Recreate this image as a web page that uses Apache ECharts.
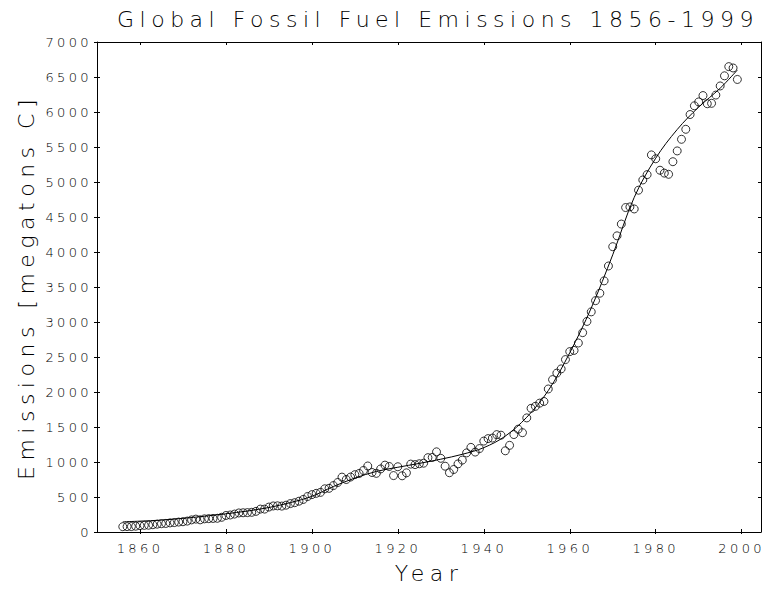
<!DOCTYPE html>
<html>
<head>
<meta charset="utf-8">
<script src="https://cdn.jsdelivr.net/npm/echarts@6/dist/echarts.min.js"></script>
<style>
  html, body { margin: 0; padding: 0; background: #fff; }
  #main { width: 764px; height: 589px; }
  #main text[style*="22px"] { letter-spacing: 0.25em; }
  #main text[style*="13px"] { letter-spacing: 0.26em; }
</style>
</head>
<body>
<div id="main"></div>
<script>
// ---- data ----
const titleText = 'Global Fossil Fuel Emissions 1856-1999';
const xName = 'Year';
const yName = 'Emissions [megatons C]';

const years = [1856,1857,1858,1859,1860,1861,1862,1863,1864,1865,1866,1867,1868,1869,1870,1871,1872,1873,1874,1875,1876,1877,1878,1879,1880,1881,1882,1883,1884,1885,1886,1887,1888,1889,1890,1891,1892,1893,1894,1895,1896,1897,1898,1899,1900,1901,1902,1903,1904,1905,1906,1907,1908,1909,1910,1911,1912,1913,1914,1915,1916,1917,1918,1919,1920,1921,1922,1923,1924,1925,1926,1927,1928,1929,1930,1931,1932,1933,1934,1935,1936,1937,1938,1939,1940,1941,1942,1943,1944,1945,1946,1947,1948,1949,1950,1951,1952,1953,1954,1955,1956,1957,1958,1959,1960,1961,1962,1963,1964,1965,1966,1967,1968,1969,1970,1971,1972,1973,1974,1975,1976,1977,1978,1979,1980,1981,1982,1983,1984,1985,1986,1987,1988,1989,1990,1991,1992,1993,1994,1995,1996,1997,1998,1999];

const emissions = [76,77,78,83,91,95,97,104,112,119,122,130,135,142,147,156,173,184,174,188,191,194,196,210,236,243,256,272,275,277,281,295,327,327,356,372,374,370,383,406,419,440,465,507,534,552,566,617,624,663,707,784,750,785,819,836,879,943,850,838,901,955,936,806,932,803,845,970,963,975,983,1062,1065,1145,1053,940,847,893,973,1027,1130,1209,1142,1192,1299,1334,1342,1391,1383,1160,1238,1392,1469,1419,1630,1767,1795,1841,1865,2043,2177,2270,2330,2463,2577,2594,2700,2848,3008,3145,3305,3411,3588,3800,4076,4231,4399,4635,4644,4615,4883,5029,5105,5387,5332,5168,5127,5110,5290,5444,5610,5753,5964,6089,6144,6235,6118,6124,6242,6372,6517,6648,6629,6465];

// fitted smooth curve
const fitYears  = [1856,1860,1865,1870,1875,1880,1885,1890,1895,1900,1905,1910,1915,1920,1925,1930,1935,1940,1945,1950,1955,1960,1965,1970,1975,1980,1985,1990,1995,1999];
const fitValues = [145,155,170,195,225,260,300,350,420,510,650,770,865,925,980,1040,1110,1205,1370,1640,2020,2560,3200,3960,4780,5340,5750,6070,6340,6600];

const xTicks = [1860,1880,1900,1920,1940,1960,1980,2000];
const xMin = 1850, xMax = 2004.5;
const yMin = 0, yMax = 7000, yStep = 500;

// ---- chart ----
const FONT = "'DejaVu Sans', sans-serif";
const chart = echarts.init(document.getElementById('main'), null, { renderer: 'svg' });

const scatterData = years.map((y, i) => [y, emissions[i]]);
const fitData = fitYears.map((y, i) => [y, fitValues[i]]);

const plain = v => String(v);
const tickIn = { show: true, inside: true, length: 3, lineStyle: { color: '#000', width: 1 } };
const tickOut = { show: true, inside: false, length: 3, lineStyle: { color: '#000', width: 1 } };
const lineStyle = { show: true, onZero: false, lineStyle: { color: '#000', width: 1 } };
const labelStyle = { fontFamily: FONT, fontSize: 13, fontWeight: 200, color: '#000' };
const nameStyle = { fontFamily: FONT, fontSize: 22, fontWeight: 200, color: '#000' };

chart.setOption({
  backgroundColor: '#fff',
  animation: false,
  title: {
    text: titleText,
    left: 433,
    top: 3,
    textAlign: 'center',
    textStyle: nameStyle
  },
  grid: { left: 97, right: 3, top: 42, bottom: 57, containLabel: false },
  xAxis: [
    {
      type: 'value', min: xMin, max: xMax, position: 'bottom',
      name: xName, nameLocation: 'middle', nameGap: 30,
      nameTextStyle: nameStyle,
      axisLine: lineStyle,
      axisTick: Object.assign({}, tickIn, { customValues: xTicks }),
      axisLabel: Object.assign({ customValues: xTicks, margin: 10, formatter: plain }, labelStyle),
      splitLine: { show: false }
    },
    {
      type: 'value', min: xMin, max: xMax, position: 'bottom',
      axisLine: { show: false },
      axisTick: Object.assign({}, tickOut, { length: 2, customValues: xTicks }),
      axisLabel: { show: false },
      splitLine: { show: false }
    },
    {
      type: 'value', min: xMin, max: xMax, position: 'top',
      axisLine: lineStyle,
      axisTick: Object.assign({}, tickIn, { customValues: xTicks }),
      axisLabel: { show: false },
      splitLine: { show: false }
    }
  ],
  yAxis: [
    {
      type: 'value', min: yMin, max: yMax, interval: yStep, position: 'left',
      name: yName, nameLocation: 'middle', nameGap: 60, nameRotate: 90,
      nameTextStyle: nameStyle,
      axisLine: lineStyle,
      axisTick: tickOut,
      axisLabel: Object.assign({ margin: 5, formatter: plain }, labelStyle),
      splitLine: { show: false }
    },
    {
      type: 'value', min: yMin, max: yMax, interval: yStep, position: 'left',
      axisLine: { show: false },
      axisTick: tickIn,
      axisLabel: { show: false },
      splitLine: { show: false }
    },
    {
      type: 'value', min: yMin, max: yMax, interval: yStep, position: 'right',
      axisLine: lineStyle,
      axisTick: tickIn,
      axisLabel: { show: false },
      splitLine: { show: false }
    }
  ],
  series: [
    {
      type: 'scatter',
      data: scatterData,
      symbol: 'circle',
      symbolSize: 8,
      itemStyle: { color: 'rgba(0,0,0,0)', borderColor: '#000', borderWidth: 1 },
      z: 3
    },
    {
      type: 'line',
      data: fitData,
      smooth: 0.35,
      showSymbol: false,
      symbol: 'none',
      lineStyle: { color: '#000', width: 1 },
      z: 2
    }
  ]
});
</script>
</body>
</html>
